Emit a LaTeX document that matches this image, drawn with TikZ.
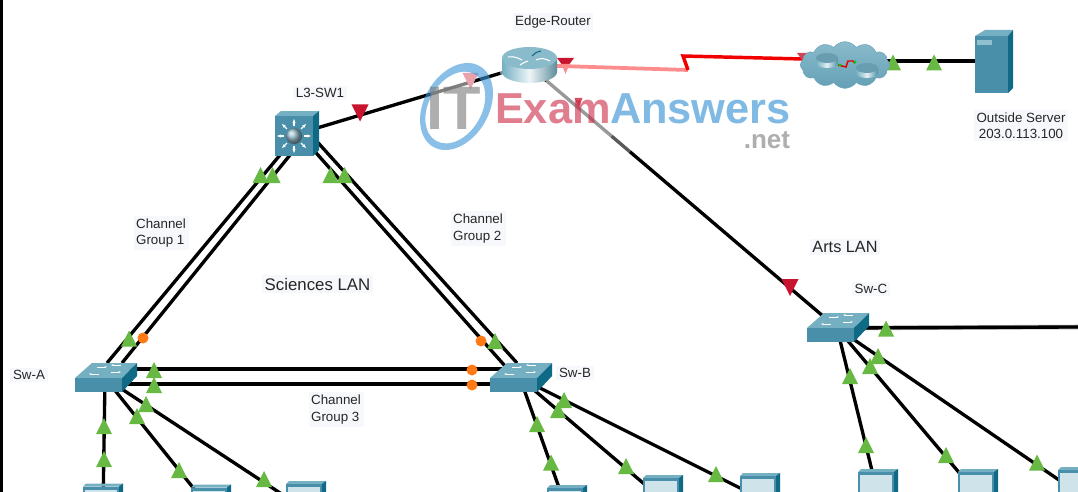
\documentclass[tikz,border=0pt]{standalone}
\usepackage{fontspec}
\setmainfont{Liberation Sans}
\usetikzlibrary{calc,arrows.meta,shapes.symbols}
\definecolor{labelbg}{HTML}{F6F8FC}
\definecolor{gtri}{HTML}{68B943}
\definecolor{rtri}{HTML}{C8142E}
\definecolor{orng}{HTML}{FF7A14}
\definecolor{tealfront}{HTML}{4A8FA9}
\definecolor{tealtop}{HTML}{74AFC2}
\definecolor{tealside}{HTML}{0F6A85}
\definecolor{screenc}{HTML}{CFE3EA}
\definecolor{pinkline}{HTML}{FF8C8C}
\definecolor{wmred}{HTML}{CC2846}
\definecolor{wmblue}{HTML}{3C96D7}
\definecolor{wmgray}{HTML}{787878}
\tikzset{
  pt/.style={inner sep=0pt,minimum size=0pt,outer sep=0pt},
  lbl/.style={fill=labelbg,inner sep=2pt,align=left,font=\fontsize{10}{12.2}\selectfont,text=black!85},
  biglbl/.style={lbl,font=\fontsize{12.6}{15}\selectfont},
  wire/.style={line width=2.5pt,black},
  halo/.style={line width=3.4pt,black!35},
  serial/.style={line width=2.6pt},
  gr/.style={fill=gtri},
  rd/.style={fill=rtri},
  dot/.style={fill=orng},
  pcicon/.pic={
    \fill[tealtop] (0,0)--(3,-3)--(40,-3)--(37,0)--cycle;
    \fill[tealfront] (0,0) rectangle (36,40);
    \fill[tealside] (36,0)--(40,-3)--(40,40)--(36,40)--cycle;
    \fill[screenc] (2,3) rectangle (34,40);
  },
  switchicon/.pic={
    \fill[tealtop] (0,0)--(17,-15)--(62,-15)--(47,0)--cycle;
    \fill[tealfront] (0,0) rectangle (47,14);
    \fill[tealside] (47,0)--(62,-15)--(62,-2)--(47,14)--cycle;
    \draw[white,line width=.6pt,-{Stealth[length=2pt]}] (22,-11)--(32,-11);
    \draw[white,line width=.6pt,-{Stealth[length=2pt]}] (46,-13)--(36,-13);
    \draw[white,line width=.6pt,-{Stealth[length=2pt]}] (24,-4)--(14,-4);
    \draw[white,line width=.6pt,-{Stealth[length=2pt]}] (36,-6)--(46,-6);
  },
}
\begin{document}
\begin{tikzpicture}[x=0.75pt,y=-0.75pt]
\useasboundingbox (0,0) rectangle (1078,492);
\begin{scope}
\clip (0,0) rectangle (1078,492);
\fill[white] (0,0) rectangle (1078,492);
\fill[black] (0,0) rectangle (3,492);
% anchors of devices
\node[pt] (router) at (528,65) {};
\node[pt] (l3) at (297,134) {};
\node[pt] (swa) at (105,378) {};
\node[pt] (swb) at (520,378) {};
\node[pt] (swc) at (837,328) {};
\node[pt] (server) at (994,61) {};
\node[pt] (pca1) at (103,510) {};
\node[pt] (pca2) at (211,510) {};
\node[pt] (pca3) at (306,510) {};
\node[pt] (pcb1) at (567,510) {};
\node[pt] (pcb2) at (663,500) {};
\node[pt] (pcb3) at (760,498) {};
\node[pt] (pcc1) at (878,495) {};
\node[pt] (pcc2) at (978,495) {};
\node[pt] (pcc3) at (1078,493) {};
\coordinate (z1) at (688,70);
\coordinate (z2) at (683,56);
\coordinate (cloudin) at (843,60);
\coordinate (east) at (1078,327);
\coordinate (l3a) at (280,155);
\coordinate (l3b) at (290,155);
\coordinate (l3c) at (310,146);
\coordinate (l3d) at (312,136);
\coordinate (swal) at (107,363);
\coordinate (swar) at (122,363);
\coordinate (swbl) at (505,366);
\coordinate (swbr) at (517,363);
\coordinate (swah) at (122,369);
\coordinate (swal2) at (122,384);
\coordinate (swbh) at (505,369);
\coordinate (swbl2) at (495,384);
% links
\draw[wire] (l3)--(router);
\draw[wire] (router)--(swc);
\draw[line width=2.8pt,pinkline] (router)--(z1);
\draw[serial,red!95!black] (z1)--(z2)--(cloudin);
\draw[wire] (cloudin |- server)--(server);
\draw[wire] (l3a)--(swal);
\draw[wire] (l3b)--(swar);
\draw[wire] (l3c)--(swbl);
\draw[wire] (l3d)--(swbr);
\draw[halo] (swah)--(swbh);
\draw[halo] (swal2)--(swbl2);
\draw[wire] (swah)--(swbh);
\draw[wire] (swal2)--(swbl2);
\draw[wire] (swa)--(pca1);
\draw[wire] (swa)--(pca2);
\draw[wire] (swa)--(pca3);
\draw[wire] (swb)--(pcb1);
\draw[wire] (swb)--(pcb2);
\draw[wire] (swb)--(pcb3);
\draw[wire] (swc)--(pcc1);
\draw[wire] (swc)--(pcc2);
\draw[wire] (swc)--(pcc3);
\draw[halo] (swc)--(east);
\draw[wire] (swc)--(east);
% washed-out stretches near the watermark
\draw[white,opacity=.6,line width=4pt] ($(router)!.06!(swc)$)--($(router)!.27!(swc)$);
\draw[white,opacity=.35,line width=4pt] ($(router)!.27!(swc)$)--($(router)!.33!(swc)$);
\draw[white,opacity=.5,line width=4pt] ($(l3)!.58!(router)$)--($(l3)!.75!(router)$);
\draw[white,opacity=.5,line width=4pt] ($(l3)!.88!(router)$)--($(l3)!.95!(router)$);
% red triangles
\foreach \x/\y in {360/113,790/287.5}
  \fill[rd,shift={(\x,\y)}] (-8.5,-8.5)--(8.5,-8.5)--(0,8.5)--cycle;
\fill[rtri,shift={(565.5,66)}] (-8.5,-8)--(8.5,-8)--(4,-2)--(-4,-2)--cycle;
\fill[pinkline,shift={(565.5,66)}] (-4,-2)--(4,-2)--(0,8)--cycle;
\fill[rtri!80!white,shift={(805,58)}] (-8,-5)--(8,-5)--(0,6)--cycle;
\fill[rtri!40!white,shift={(470.5,81)}] (-8,-8)--(8,-8)--(0,8)--cycle;
\fill[rtri!75!white,shift={(578.5,103)}] (-4,-5)--(4,-5)--(0,5)--cycle;
% green triangles
\foreach \x/\y in {260.5/175,272.5/175,330.5/175,344.5/175,129/338.5,154/370,154/385,146/404,137/416,104/426,104/459,179/470,264/479,495/341,564/400,558/410,537/424,551/462.5,626/466,716/474,886/328.5,878/356,870/366,850/376,866/445,946/455,1037/462.5,893/62.5,934/62.5}
  \fill[gr,shift={(\x,\y)}] (-8,8)--(0,-8)--(8,8)--cycle;
% orange dots
\foreach \x/\y in {143/338,481/341,472/370,472/385}
  \fill[dot] (\x,\y) circle[radius=5.5];
% devices
\pic at (75,378) {switchicon};
\pic at (490,378) {switchicon};
\pic at (807,328) {switchicon};
\pic at (83,486.5) {pcicon};
\pic at (191,487.5) {pcicon};
\pic at (286,484) {pcicon};
\pic at (547,488) {pcicon};
\pic at (643,478) {pcicon};
\pic at (740,476) {pcicon};
\pic at (858,472) {pcicon};
\pic at (958,472) {pcicon};
\pic at (1058,470) {pcicon};
% L3 switch
\fill[tealtop] (275,116)--(281,111)--(319,111)--(313,116)--cycle;
\fill[tealfront] (275,116) rectangle (313,156);
\fill[tealside] (313,116)--(319,111)--(319,150)--(313,156)--cycle;
\foreach \a in {0,45,...,315}
  \draw[white,line width=1pt,-{Stealth[length=3pt]}] ($(294,136)+(\a:10)$)--($(294,136)+(\a:17)$);
\shade[ball color=tealfront!60!white] (294,136) circle[radius=8];
% router
\shade[left color=tealtop,right color=tealtop!80!black,middle color=white!88!tealtop] (502,58)--(502,72) arc[start angle=180,end angle=0,x radius=27.5,y radius=11]--(557,58)--cycle;
\fill[tealtop!85!white] (529.5,58) ellipse[x radius=27.5,y radius=11];
\draw[white,line width=.8pt] (508,57)..controls (514,56) and (518,58)..(522,60);
\draw[white,line width=.8pt] (536,60)..controls (540,58) and (544,58)..(550,61);
\draw[tealside,line width=.8pt] (532,56)..controls (534,53) and (537,52)..(541,51);
\draw[white,line width=.8pt] (520,65)..controls (523,63) and (525,62)..(528,61);
% cloud
\node[cloud,cloud puffs=12,cloud puff arc=110,aspect=1.85,minimum width=67pt,minimum height=35pt,inner sep=0pt,
  top color=tealtop!85!white,bottom color=tealfront!85!white,draw=tealfront!80!white,line width=.4pt] (cloud) at (845,65) {};
\foreach \cx/\cy in {827/60,867/70}{
  \shade[left color=tealtop,right color=tealfront,middle color=white!80!tealtop] (\cx-11,\cy-2)--(\cx-11,\cy+3) arc[start angle=180,end angle=0,x radius=11,y radius=5]--(\cx+11,\cy-2)--cycle;
  \fill[tealtop!90!black] (\cx,\cy-2) ellipse[x radius=11,y radius=5];
}
\draw[red!90!black,line width=1.1pt] (838,65)--(846,67)--(848,61)--(853,61)--(855,63);
\fill[green!80!black] (840,65) circle[radius=1.6] (855,62) circle[radius=1.6];
% server
\fill[tealtop] (975,36)--(985,30)--(1013,30)--(1008,36)--cycle;
\fill[tealfront] (975,36) rectangle (1008,93);
\fill[tealside] (1008,36)--(1013,30)--(1013,88)--(1008,93)--cycle;
\fill[tealtop!80!white] (977,40) rectangle (992,45);
% watermark
\fill[wmblue,opacity=.6,even odd rule] [rotate around={60:(456.5,106.5)}] (456.5,106.5) ellipse[x radius=46.6,y radius=32.4] (455,106) ellipse[x radius=38.5,y radius=26.5];
\node[pt,text=wmgray,opacity=.6,font=\fontsize{46}{46}\selectfont\bfseries,anchor=base west] (wmit) at (426,129) {IT};
\node[pt,text=wmred,opacity=.6,font=\fontsize{32.5}{32.5}\selectfont\bfseries,anchor=base west] (wmexam) at (495,123) {Exam};
\node[pt,text=wmblue,opacity=.65,font=\fontsize{32.5}{32.5}\selectfont\bfseries,anchor=base west] (wmans) at (610,123) {Answers};
\node[pt,text=wmgray,opacity=.6,font=\fontsize{19.5}{19.5}\selectfont\bfseries,anchor=base east] (wmnet) at (790,148) {.net};
% labels
\node[lbl] (tedge) at (553,22) {Edge-Router};
\node[lbl] (tl3) at (320,93) {L3-SW1};
\node[lbl] (tcg1) at (161,233) {Channel\\Group 1};
\node[lbl] (tcg2) at (478,228.5) {Channel\\Group 2};
\node[lbl] (tcg3) at (336,409.5) {Channel\\Group 3};
\node[biglbl] (tsci) at (317.5,284) {Sciences LAN};
\node[biglbl,font=\fontsize{12.2}{15}\selectfont] (tarts) at (845,247) {Arts LAN};
\node[lbl] (tswa) at (29,375) {Sw-A};
\node[lbl] (tswb) at (575,373) {Sw-B};
\node[lbl] (tswc) at (871,289) {Sw-C};
\node[lbl,align=center] (tsrv) at (1021,125.5) {Outside Server\\203.0.113.100};
\end{scope}
\end{tikzpicture}
\end{document}
